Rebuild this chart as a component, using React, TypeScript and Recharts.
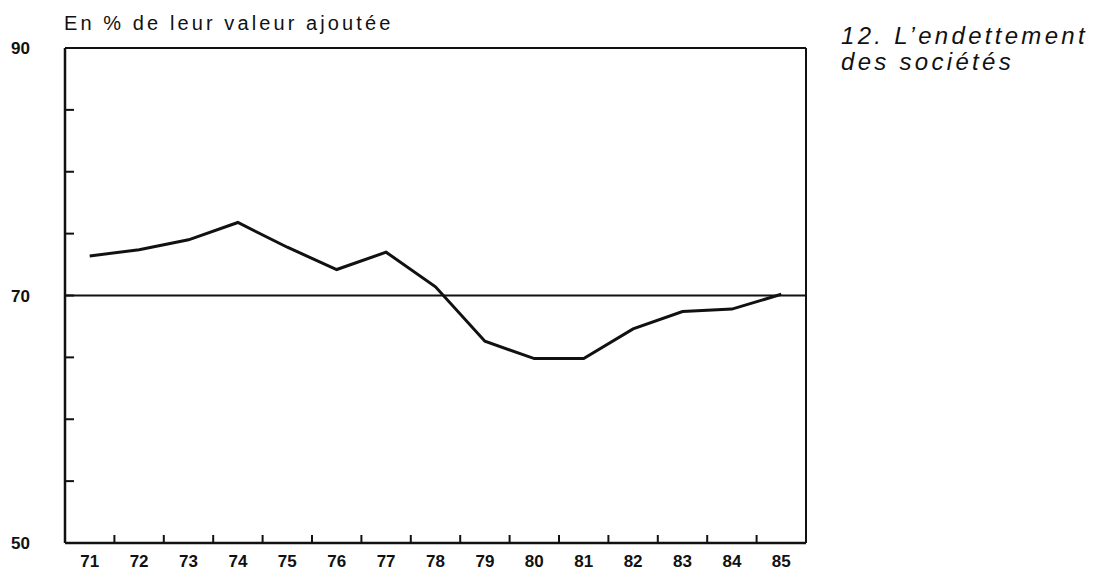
import { LineChart, Line, XAxis, YAxis, ReferenceLine } from 'recharts'

const years = [71, 72, 73, 74, 75, 76, 77, 78, 79, 80, 81, 82, 83, 84, 85]
const endettement = [73.2, 73.7, 74.5, 75.9, 73.9, 72.1, 73.5, 70.7, 66.3, 64.9, 64.9, 67.3, 68.7, 68.9, 70.1]
const yLabelTicks = [50, 70, 90]
const yMarkTicks = [50, 55, 60, 65, 70, 75, 80, 85, 90]
const xMarkTicks = [71.5, 72.5, 73.5, 74.5, 75.5, 76.5, 77.5, 78.5, 79.5, 80.5, 81.5, 82.5, 83.5, 84.5]

const data = years.map((year, i) => ({ year, value: endettement[i] }))

const font = '"Liberation Sans", Arial, sans-serif'
const tickStyle = { fontSize: 17, fontWeight: 700, fill: '#111', fontFamily: font }
const noLabel = () => ''
// only 50, 70 and 90 carry a label, the other ticks are bare marks
const yLabel = (v: number) => (yLabelTicks.includes(v) ? String(v) : '')

export default function App() {
  return (
    <div style={{ position: 'absolute', left: 0, top: 0, width: 1093, height: 572, background: '#fff' }}>
      <div
        style={{
          position: 'absolute',
          left: 64,
          top: 12,
          fontFamily: font,
          fontSize: 20,
          letterSpacing: 3.1,
          color: '#111',
          whiteSpace: 'nowrap',
        }}
      >
        En % de leur valeur ajoutée
      </div>
      <div
        style={{
          position: 'absolute',
          left: 841,
          top: 23,
          fontFamily: font,
          fontSize: 24,
          fontStyle: 'italic',
          letterSpacing: 3.3,
          lineHeight: '26px',
          color: '#111',
          whiteSpace: 'nowrap',
        }}
      >
        12. L’endettement
        <br />
        des sociétés
      </div>
      <LineChart
        width={1093}
        height={572}
        data={data}
        margin={{ top: 47, right: 286, bottom: 0, left: 0 }}
        style={{ position: 'absolute', left: 0, top: 0 }}
      >
        <XAxis
          xAxisId="lab"
          dataKey="year"
          type="number"
          domain={[70.5, 85.5]}
          ticks={years}
          interval={0}
          height={29}
          tickLine={false}
          tickSize={0}
          tickMargin={12}
          fontSize={17}
          axisLine={{ stroke: '#111', strokeWidth: 2.5 }}
          tick={tickStyle}
        />
        <XAxis
          xAxisId="marks"
          dataKey="year"
          type="number"
          domain={[70.5, 85.5]}
          ticks={xMarkTicks}
          interval={0}
          mirror
          height={1}
          tickFormatter={noLabel}
          tickSize={8}
          tickLine={{ stroke: '#111', strokeWidth: 2 }}
          axisLine={false}
        />
        <XAxis
          xAxisId="top"
          orientation="top"
          dataKey="year"
          type="number"
          domain={[70.5, 85.5]}
          height={1}
          tick={false}
          tickLine={false}
          axisLine={{ stroke: '#111', strokeWidth: 2 }}
        />
        <YAxis
          yAxisId="lab"
          domain={[50, 90]}
          ticks={yMarkTicks}
          interval={0}
          width={65}
          tickFormatter={yLabel}
          tickSize={-9}
          tickMargin={44}
          fontSize={17}
          tickLine={{ stroke: '#111', strokeWidth: 2 }}
          axisLine={{ stroke: '#111', strokeWidth: 2.5 }}
          tick={tickStyle}
        />
        <YAxis
          yAxisId="right"
          orientation="right"
          domain={[50, 90]}
          width={1}
          tick={false}
          tickLine={false}
          axisLine={{ stroke: '#111', strokeWidth: 2 }}
        />
        <ReferenceLine xAxisId="lab" yAxisId="lab" y={70} stroke="#111" strokeWidth={2} />
        <Line
          xAxisId="lab"
          yAxisId="lab"
          type="linear"
          dataKey="value"
          stroke="#111"
          strokeWidth={3}
          dot={false}
          isAnimationActive={false}
        />
      </LineChart>
    </div>
  )
}
